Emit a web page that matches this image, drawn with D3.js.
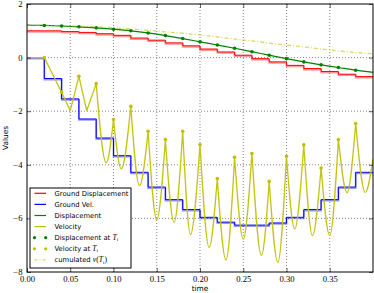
<!DOCTYPE html>
<html>
<head>
<meta charset="utf-8">
<script src="https://cdn.jsdelivr.net/npm/d3@7"></script>
<style>
body { margin: 0; background: #fff; }
</style>
</head>
<body>
<div id="chart"></div>
<script>
// step boundaries T_i (s)
var stepT = [0.00, 0.02, 0.04, 0.06, 0.08, 0.10, 0.12, 0.14, 0.16, 0.18,
             0.20, 0.22, 0.24, 0.26, 0.28, 0.30, 0.32, 0.34, 0.36, 0.38, 0.40];

// piecewise constant ground motion, one value per step
var groundDisp = [1.00, 1.00, 0.97, 0.94, 0.89, 0.83, 0.73, 0.65, 0.55, 0.44,
                  0.32, 0.21, 0.09, -0.04, -0.16, -0.29, -0.41, -0.52, -0.62, -0.71];
var groundVel  = [0.00, -0.78, -1.54, -2.29, -3.00, -3.66, -4.28, -4.83, -5.30, -5.67,
                  -5.96, -6.14, -6.25, -6.25, -6.17, -5.96, -5.67, -5.30, -4.83, -4.28];

// displacement and cumulated v(T_i), read at each stepT
var disp = [1.21, 1.20, 1.18, 1.15, 1.11, 1.06, 1.00, 0.92, 0.82, 0.71,
            0.59, 0.47, 0.35, 0.22, 0.09, -0.04, -0.16, -0.27, -0.37, -0.47, -0.55];
var cumV = [1.20, 1.20, 1.19, 1.17, 1.15, 1.11, 1.07, 1.02, 0.96, 0.91,
            0.85, 0.77, 0.69, 0.62, 0.54, 0.47, 0.40, 0.32, 0.25, 0.19, 0.14];

// velocity curve: values at T_i (peaks) and troughs in between
var velT = [0, 0.02, 0.04, 0.05, 0.06, 0.069, 0.08, 0.0915, 0.10, 0.109,
            0.12, 0.13, 0.14, 0.15, 0.16, 0.17, 0.18, 0.189, 0.20, 0.2105,
            0.22, 0.23, 0.24, 0.25, 0.26, 0.271, 0.28, 0.29, 0.30, 0.3095,
            0.32, 0.33, 0.34, 0.35, 0.36, 0.37, 0.38, 0.391, 0.40];
var velV = [0, 0, -1.29, -1.98, -0.70, -1.98, -0.97, -3.93, -2.31, -4.15,
            -1.82, -4.78, -2.75, -6.05, -3.06, -6.15, -2.75, -6.60, -3.25, -7.08,
            -4.51, -7.55, -3.72, -6.77, -3.58, -7.38, -4.62, -7.64, -3.68, -6.39,
            -3.25, -6.64, -4.12, -6.64, -3.06, -5.04, -2.46, -5.03, -3.80];

var xTicks = [0.00, 0.05, 0.10, 0.15, 0.20, 0.25, 0.30, 0.35];
var yTicks = [-8, -6, -4, -2, 0, 2];

var Ti = stepT.slice(1, 20);   // sample instants with markers
var sharpUntil = 0.08;         // early velocity is only coarsely sampled

var legendItems = [
    {label: ["Ground Displacement"], kind: "line", color: "#ff0000"},
    {label: ["Ground Vel."], kind: "line", color: "#0000ff"},
    {label: ["Displacement"], kind: "line", color: "#008000"},
    {label: ["Velocity"], kind: "line", color: "#bfbf00"},
    {label: ["Displacement at ", "T", "i"], kind: "dots", color: "#008000"},
    {label: ["Velocity at ", "T", "i"], kind: "dots", color: "#bfbf00"},
    {label: ["cumulated ", "v", "(", "T", "i", ")"], kind: "dash", color: "#bfbf00"}
];


var width = 374, height = 293;
var margin = {top: 4, right: 1, bottom: 21, left: 27};
var inner_width = width - margin.left - margin.right;
var inner_height = height - margin.top - margin.bottom;

var svg = d3.select("#chart").append("svg")
    .attr("width", width)
    .attr("height", height);

var g = svg.append("g")
    .attr("transform", "translate(" + margin.left + "," + margin.top + ")");

var x_scale = d3.scaleLinear().domain([0, 0.4]).range([0, inner_width]);
var y_scale = d3.scaleLinear().domain([-8, 2]).range([inner_height, 0]);

g.append("clipPath").attr("id", "clip")
    .append("rect").attr("width", inner_width).attr("height", inner_height);

//Grid
var grid = g.append("g")
    .attr("stroke", "#555")
    .attr("stroke-width", 0.7)
    .attr("stroke-dasharray", "1,2");
grid.selectAll(".gx").data(xTicks.slice(1)).enter().append("line")
    .attr("x1", function(d) {return x_scale(d);})
    .attr("x2", function(d) {return x_scale(d);})
    .attr("y1", 0).attr("y2", inner_height);
grid.selectAll(".gy").data(yTicks.slice(1, -1)).enter().append("line")
    .attr("y1", function(d) {return y_scale(d);})
    .attr("y2", function(d) {return y_scale(d);})
    .attr("x1", 0).attr("x2", inner_width);

var plot = g.append("g").attr("clip-path", "url(#clip)");

var line = d3.line()
    .x(function(d) {return x_scale(d[0]);})
    .y(function(d) {return y_scale(d[1]);});

function stepData(vals) {
    return stepT.map(function(t, i) {return [t, vals[Math.min(i, vals.length - 1)]];});
}

//Ground steps: pale copy just underneath, thin line on top
function drawSteps(vals, color) {
    var stepLine = d3.line()
        .x(function(d) {return x_scale(d[0]);})
        .y(function(d) {return y_scale(d[1]);})
        .curve(d3.curveStepAfter);
    plot.append("path")
        .attr("d", stepLine(stepData(vals)))
        .attr("fill", "none")
        .attr("stroke", color)
        .attr("stroke-opacity", 0.4)
        .attr("stroke-width", 1.8)
        .attr("transform", "translate(0,1)");
    plot.append("path")
        .attr("d", stepLine(stepData(vals)))
        .attr("fill", "none")
        .attr("stroke", color)
        .attr("stroke-width", 1);
}
drawSteps(groundDisp, "#ff0000");
drawSteps(groundVel, "#0000ff");

//Displacement
var smooth = d3.line()
    .x(function(d) {return x_scale(d[0]);})
    .y(function(d) {return y_scale(d[1]);})
    .curve(d3.curveMonotoneX);

plot.append("path")
    .attr("d", smooth(stepT.map(function(t, i) {return [t, disp[i]];})))
    .attr("fill", "none")
    .attr("stroke", "#008000")
    .attr("stroke-width", 1.2);

//Velocity, one smooth piece per interval so the peaks stay sharp
var pieces = [], cur = [];
velT.forEach(function(t, i) {
    cur.push([t, velV[i]]);
    if(Ti.indexOf(t) >= 0 && cur.length > 1) {
        pieces.push(cur);
        cur = [[t, velV[i]]];
    }
});
if(cur.length > 1) pieces.push(cur);

plot.append("path")
    .attr("d", pieces.map(function(p) {
        return p[0][0] < sharpUntil ? line(p) : smooth(p);
    }).join(""))
    .attr("fill", "none")
    .attr("stroke", "#c4c410")
    .attr("stroke-width", 1.3)
    .attr("stroke-linejoin", "round")
    .attr("stroke-linecap", "round");

//cumulated v(T_i)
plot.append("path")
    .attr("d", line(stepT.map(function(t, i) {return [t, cumV[i]];})))
    .attr("fill", "none")
    .attr("stroke", "#bfbf00")
    .attr("stroke-opacity", 0.6)
    .attr("stroke-width", 1.3)
    .attr("stroke-dasharray", "4,2,1,2");

//Markers at T_i
plot.selectAll(".ddot").data(Ti).enter().append("circle")
    .attr("cx", function(d) {return x_scale(d);})
    .attr("cy", function(d) {return y_scale(disp[stepT.indexOf(d)]);})
    .attr("r", 1.8)
    .attr("fill", "#008000");
plot.selectAll(".vdot").data(Ti).enter().append("circle")
    .attr("cx", function(d) {return x_scale(d);})
    .attr("cy", function(d) {return y_scale(velV[velT.indexOf(d)]);})
    .attr("r", 1.8)
    .attr("fill", "#bfbf00");

//Axes, ticks pointing inward on every side
var x_axis = d3.axisBottom(x_scale).tickValues(xTicks).tickFormat(d3.format(".2f"))
    .tickSizeInner(-4).tickSizeOuter(0).tickPadding(4);
var y_axis = d3.axisLeft(y_scale).tickValues(yTicks).tickFormat(d3.format("d"))
    .tickSizeInner(-4).tickSizeOuter(0).tickPadding(4.5);

var gx = g.append("g").attr("transform", "translate(0," + inner_height + ")").call(x_axis);
var gy = g.append("g").call(y_axis);
g.append("g").call(d3.axisTop(x_scale).tickValues(xTicks).tickSizeInner(-4).tickSizeOuter(0).tickFormat(""));
g.append("g").attr("transform", "translate(" + inner_width + ",0)")
    .call(d3.axisRight(y_scale).tickValues(yTicks).tickSizeInner(-4).tickSizeOuter(0).tickFormat(""));

g.selectAll(".domain").remove();
g.selectAll(".tick line").attr("stroke", "#000").attr("stroke-width", 0.6);
g.selectAll(".tick text")
    .attr("font-family", "'Liberation Serif', serif")
    .attr("font-size", 8.6)
    .attr("fill", "#000");
gy.selectAll(".tick text").attr("dy", "0.28em");

g.append("rect")
    .attr("width", inner_width)
    .attr("height", inner_height)
    .attr("fill", "none")
    .attr("stroke", "#000")
    .attr("stroke-width", 1);

//Axis labels
g.append("text")
    .attr("x", inner_width / 2)
    .attr("y", inner_height + 18.5)
    .attr("text-anchor", "middle")
    .attr("font-family", "'DejaVu Sans', sans-serif")
    .attr("font-size", 7.4)
    .text("time");

svg.append("text")
    .attr("transform", "translate(8.3," + (margin.top + inner_height / 2) + ") rotate(-90)")
    .attr("text-anchor", "middle")
    .attr("font-family", "'DejaVu Sans', sans-serif")
    .attr("font-size", 7.4)
    .text("Values");

//Legend
var legend = g.append("g").attr("transform", "translate(3,184)");
legend.append("rect")
    .attr("width", 101).attr("height", 80)
    .attr("fill", "#fff")
    .attr("stroke", "#000")
    .attr("stroke-width", 1);

var rows = legend.selectAll(".row").data(legendItems).enter().append("g")
    .attr("transform", function(d, i) {return "translate(0," + (5.3 + i * 11.1) + ")";});

rows.each(function(d) {
    var r = d3.select(this);
    if(d.kind === "line") {
        r.append("line").attr("x1", 4.5).attr("x2", 16).attr("y1", 0).attr("y2", 0)
            .attr("stroke", d.color).attr("stroke-width", 1.2);
    } else if(d.kind === "dots") {
        r.selectAll("circle").data([4.5, 15.7]).enter().append("circle")
            .attr("cx", function(c) {return c;}).attr("cy", 0).attr("r", 1.6)
            .attr("fill", d.color);
    } else {
        r.append("line").attr("x1", 4.5).attr("x2", 16).attr("y1", 0).attr("y2", 0)
            .attr("stroke", d.color).attr("stroke-opacity", 0.6).attr("stroke-width", 1.2)
            .attr("stroke-dasharray", "3,2,1,2");
    }
    var t = r.append("text")
        .attr("x", 24.5).attr("y", 0).attr("dy", "0.35em")
        .attr("font-family", "'DejaVu Sans', sans-serif")
        .attr("font-size", 6.8);
    d.label.forEach(function(s, k) {
        var span = t.append("tspan").text(s);
        if(s === "T" || s === "v") span.attr("font-family", "'Liberation Serif', serif").attr("font-style", "italic").attr("font-size", 7.6);
        if(s === "i") span.attr("font-family", "'Liberation Serif', serif").attr("font-size", 5).attr("dy", "0.25em");
        if(k > 0 && d.label[k - 1] === "i") span.attr("dy", "-0.25em");
        if(s === "(" || s === ")") span.attr("font-family", "'Liberation Serif', serif").attr("font-size", 7.6);
    });
});
</script>
</body>
</html>
